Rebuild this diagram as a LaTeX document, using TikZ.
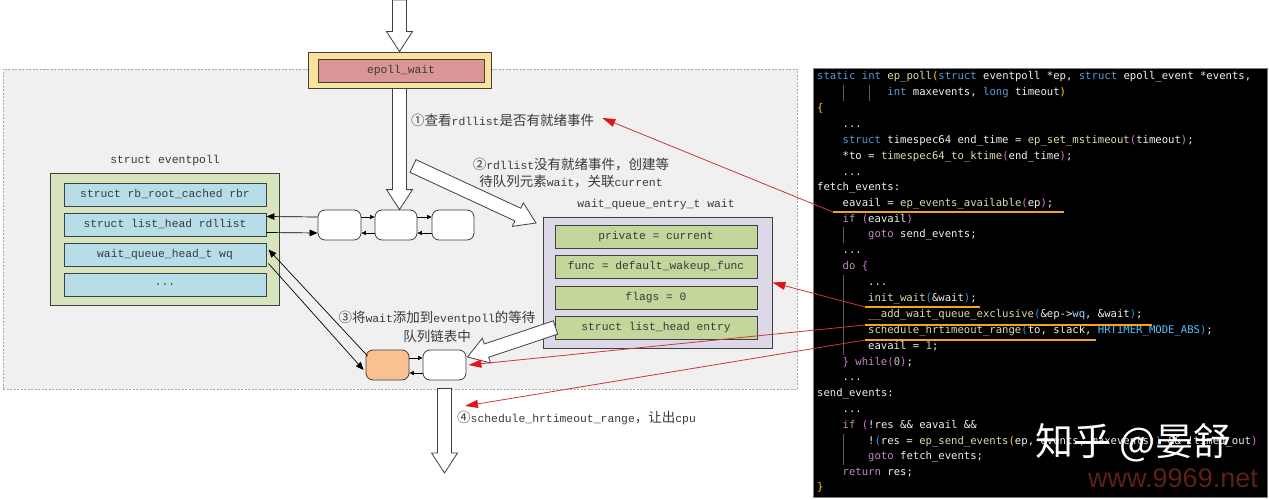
\documentclass[tikz,border=0pt]{standalone}
\usepackage{fontspec}
\usetikzlibrary{arrows.meta,calc}
\newfontfamily\lmono{Liberation Mono}
\newfontfamily\cjk{Noto Sans CJK SC}
\newfontfamily\codefont{DejaVu Sans Mono}
\newfontfamily\wsans{Liberation Sans}

\definecolor{bggray}{HTML}{F0F0F0}
\definecolor{dashgray}{HTML}{A6A6A6}
\definecolor{edgegray}{HTML}{404040}
\definecolor{txtgray}{HTML}{3A3A3A}
\definecolor{ewyellow}{HTML}{FCE39B}
\definecolor{ewred}{HTML}{D99694}
\definecolor{epgreen}{HTML}{D7E4BD}
\definecolor{fblue}{HTML}{B7DEE8}
\definecolor{wqlav}{HTML}{DCD8E8}
\definecolor{fgreen}{HTML}{C3D69B}
\definecolor{nodeorange}{HTML}{F9C090}
\definecolor{redline}{HTML}{C8393B}
\definecolor{redhead}{HTML}{E0141A}
\definecolor{ulorange}{HTML}{F2A516}
\definecolor{cdef}{HTML}{F0F0F0}
\definecolor{ckw}{HTML}{569CD6}
\definecolor{cctl}{HTML}{C586C0}
\definecolor{cfn}{HTML}{DCDCAA}
\definecolor{cvar}{HTML}{9CDCFE}
\definecolor{cpa}{HTML}{FFD700}
\definecolor{cpb}{HTML}{DA70D6}
\definecolor{cpc}{HTML}{179FFF}
\definecolor{cnum}{HTML}{B5CEA8}
\definecolor{ccon}{HTML}{4FC1FF}
\definecolor{cguide}{HTML}{5A5A5A}
\definecolor{wmred}{HTML}{5C2117}

\newcommand\zh[1]{{\cjk\fontsize{13.5}{15}\selectfont #1}}
\newcommand\cKW[1]{\textcolor{ckw}{#1}}
\newcommand\cCT[1]{\textcolor{cctl}{#1}}
\newcommand\cFN[1]{\textcolor{cfn}{#1}}
\newcommand\cVR[1]{\textcolor{cvar}{#1}}
\newcommand\cNM[1]{\textcolor{cnum}{#1}}
\newcommand\cCN[1]{\textcolor{ccon}{#1}}
\newcommand\cPA[1]{\textcolor{cpa}{#1}}
\newcommand\cPB[1]{\textcolor{cpb}{#1}}
\newcommand\cPC[1]{\textcolor{cpc}{#1}}

\newcommand\blockarrow[2]{%
  \path let \p1=#1, \p2=#2 in \pgfextra{%
    \pgfmathsetmacro\baAngTmp{atan2(\y2-\y1,\x2-\x1)}%
    \pgfmathsetmacro\baLenTmp{veclen(\x2-\x1,\y2-\y1)}%
    \xdef\baAng{\baAngTmp}\xdef\baLen{\baLenTmp}};
  \draw[blockarr, shift={#1}, rotate=\baAng]
    (0pt,-7pt) -- ({\baLen pt-20pt},-7pt) -- ({\baLen pt-20pt},-13pt) -- ({\baLen pt},0pt)
    -- ({\baLen pt-20pt},13pt) -- ({\baLen pt-20pt},7pt) -- (0pt,7pt) -- cycle;
}

\tikzset{
  box/.style={draw=edgegray, line width=0.9pt, inner sep=0pt, font=\lmono\fontsize{11.3}{13}\selectfont, text=txtgray},
  field/.style={box, minimum width=202pt, minimum height=23pt},
  listnode/.style={draw=edgegray, line width=0.8pt, fill=white, rounded corners=7pt, minimum width=43pt, minimum height=30pt, inner sep=0pt},
  lbl/.style={font=\lmono\fontsize{11.4}{13}\selectfont, text=txtgray, inner sep=0pt},
  blockarr/.style={draw=edgegray, fill=white, line width=0.8pt, line join=miter},
  larr/.style={draw=black, line width=0.7pt, -{Triangle[length=8pt,width=6.5pt]}},
  sarr/.style={draw=black, line width=0.6pt, -{Triangle[length=4.5pt,width=4pt]}},
  redarr/.style={draw=redline, line width=0.8pt, -{Triangle[length=13pt,width=8pt,color=redhead]}},
  ul/.style={draw=ulorange, line width=2pt},
  cl/.style={anchor=west, inner sep=0pt, text height=8pt, text depth=2.5pt, font=\codefont\fontsize{10.6}{12}\selectfont\frenchspacing, text=cdef},
  guide/.style={draw=cguide, line width=0.6pt}
}

\begin{document}
\begin{tikzpicture}[x=1pt,y=-1pt]
\useasboundingbox (0,0) rectangle (1269,500);

% background frame
\node[draw=dashgray, dash pattern=on 2pt off 1.5pt, fill=bggray, line width=0.8pt, minimum width=794pt, minimum height=320pt, inner sep=0pt] (frame) at (400,229) {};

% code panel
\node[draw=gray, fill=black, line width=0.8pt, minimum width=454pt, minimum height=429pt, inner sep=0pt] (codebg) at (1040,282.5) {};

% epoll_wait
\node[box, fill=ewyellow, minimum width=183pt, minimum height=36pt] (ewo) at (399.5,70) {};
\node[box, fill=ewred, minimum width=166pt, minimum height=23pt] (ew) at (401,70.5) {epoll\_wait};

% eventpoll
\node[lbl] (eplbl) at (165,161) {struct eventpoll};
\node[box, fill=epgreen, minimum width=229pt, minimum height=132pt] (ep) at (165,239) {};
\node[field, fill=fblue] (rbr) at (165,194.5) {struct rb\_root\_cached rbr};
\node[field, fill=fblue] (rdl) at (165,224.5) {struct list\_head rdllist};
\node[field, fill=fblue] (wq) at (165,254.5) {wait\_queue\_head\_t wq};
\node[field, fill=fblue] (etc) at (165,284.5) {...};

% ready list
\node[listnode] (n1) at (339.5,225) {};
\node[listnode, minimum width=42pt] (n2) at (396,225) {};
\node[listnode, minimum width=42pt] (n3) at (453,225) {};

% wait entry
\node[lbl] (wlbl) at (656,205) {wait\_queue\_entry\_t wait};
\node[box, fill=wqlav, minimum width=229pt, minimum height=131pt] (wait) at (657.5,282.5) {};
\node[field, fill=fgreen] (priv) at (656,236.5) {private = current};
\node[field, fill=fgreen] (func) at (656,267) {func = default\_wakeup\_func};
\node[field, fill=fgreen] (flags) at (656,297.5) {flags = 0};
\node[field, fill=fgreen] (entry) at (656,327.5) {struct list\_head entry};

% wait queue list
\node[listnode, fill=nodeorange] (on) at (387.5,365) {};
\node[listnode] (wn) at (444.5,365) {};

% labels
\node[lbl, anchor=west] (l1) at (411,120) {\zh{①查看}rdllist\zh{是否有就绪事件}};
\node[lbl] (l2a) at (571,165) {\zh{②}rdllist\zh{没有就绪事件，创建等}};
\node[lbl] (l2b) at (571,182) {\zh{待队列元素}wait\zh{，关联}current};
\node[lbl] (l3a) at (437,318) {\zh{③将}wait\zh{添加到}eventpoll\zh{的等待}};
\node[lbl] (l3b) at (437,336) {\zh{队列链表中}};
\node[lbl, anchor=west] (l4) at (457,418) {\zh{④}schedule\_hrtimeout\_range\zh{，让出}cpu};

% block arrows
\coordinate (topin) at (399.5,0);
\blockarrow{(topin)}{(ewo.north)}
\coordinate (dn2) at (ewo.south |- n2.north);
\blockarrow{(ewo.south)}{(dn2)}
\coordinate (d2s) at (413,166);
\coordinate (d2e) at (536,223);
\blockarrow{(d2s)}{(d2e)}
\coordinate (e3s) at ($(entry.west)+(1,0)$);
\coordinate (e3e) at ($(wn.east)+(1,-8)$);
\blockarrow{(e3s)}{(e3e)}
\coordinate (bs) at ($(wn.south)+(0,8)$);
\coordinate (be) at (444.5,473);
\blockarrow{(bs)}{(be)}

% list connectors
\draw[larr] ([yshift=8pt]n1.west) -- ([yshift=8pt]rdl.east);
\draw[larr] ([yshift=-8pt]rdl.east) -- ([yshift=-8pt]n1.west);
\draw[sarr] ([yshift=8pt]n1.east) -- ([yshift=8pt]n2.west);
\draw[sarr] ([yshift=-8pt]n2.west) -- ([yshift=-8pt]n1.east);
\draw[sarr] ([yshift=8pt]n2.east) -- ([yshift=8pt]n3.west);
\draw[sarr] ([yshift=-8pt]n3.west) -- ([yshift=-8pt]n2.east);
\draw[sarr] ([yshift=7pt]on.east) -- ([yshift=7pt]wn.west);
\draw[sarr] ([yshift=-8pt]wn.west) -- ([yshift=-8pt]on.east);
\draw[larr] ($(on.west)+(2,-9)$) -- ($(wq.east)+(2,-5)$);
\draw[larr] ($(wq.east)+(2,9)$) -- ($(on.west)+(-2,5)$);

% code
\draw[guide] (843,85) -- (843,101);
\draw[guide] (869,85) -- (869,101);
\draw[guide] (843,227) -- (843,243);
\draw[guide] (843,275) -- (843,355);
\draw[guide] (843,434) -- (843,465);
\node[cl] (c1) at (817,77) {\cKW{static} \cKW{int} \cFN{ep\_poll}\cPA{(}\cKW{struct} eventpoll *ep, \cKW{struct} epoll\_event *events,};
\node[cl] (c2) at (887.2,93) {\cKW{int} maxevents, \cKW{long} timeout\cPA{)}};
\node[cl] (c3) at (817,109) {\cPA{\{}};
\node[cl] (c4) at (842.5,125) {...};
\node[cl] (c5) at (842.5,141) {\cKW{struct} timespec64 end\_time = \cFN{ep\_set\_mstimeout}\cPB{(}timeout\cPB{)};};
\node[cl] (c6) at (842.5,157) {*to = \cFN{timespec64\_to\_ktime}\cPB{(}end\_time\cPB{)};};
\node[cl] (c7) at (842.5,173) {...};
\node[cl] (c8) at (817,188) {fetch\_events:};
\node[cl] (c9) at (842.5,204) {eavail = \cFN{ep\_events\_available}\cPB{(}ep\cPB{)};};
\node[cl] (c10) at (842.5,220) {\cCT{if} \cPB{(}eavail\cPB{)}};
\node[cl] (c11) at (868,235) {\cCT{goto} send\_events;};
\node[cl] (c12) at (842.5,251) {...};
\node[cl] (c13) at (842.5,267) {\cCT{do} \cPB{\{}};
\node[cl] (c14) at (868,283) {...};
\node[cl] (c15) at (868,299) {\cFN{init\_wait}\cPC{(}\&wait\cPC{)};};
\node[cl] (c16) at (868,315) {\cFN{\_\_add\_wait\_queue\_exclusive}\cPC{(}\&ep->\cVR{wq}, \&wait\cPC{)};};
\node[cl] (c17) at (868,331) {\cFN{schedule\_hrtimeout\_range}\cPC{(}to, slack, \cCN{HRTIMER\_MODE\_ABS}\cPC{)};};
\node[cl] (c18) at (868,347) {eavail = \cNM{1};};
\node[cl] (c19) at (842.5,363) {\cPB{\}} \cCT{while}\cPB{(}\cNM{0}\cPB{)};};
\node[cl] (c20) at (842.5,378) {...};
\node[cl] (c21) at (817,394) {send\_events:};
\node[cl] (c22) at (842.5,410) {...};
\node[cl] (c23) at (842.5,426) {\cCT{if} \cPB{(}!res \&\& eavail \&\&};
\node[cl] (c24) at (868,442) {!\cPC{(}res = \cFN{ep\_send\_events}\cPA{(}ep, events, maxevents\cPA{)}\cPC{)} \&\& !timed\_out\cPB{)}};
\node[cl] (c25) at (868,457) {\cCT{goto} fetch\_events;};
\node[cl] (c26) at (842.5,473) {\cCT{return} res;};
\node[cl] (c27) at (817,488) {\cPA{\}}};

% red arrows and underlines
\coordinate (u1s) at (833,212); \coordinate (u1e) at (1064,212);
\coordinate (u2s) at (865,307); \coordinate (u2e) at (980,307);
\coordinate (u3s) at (865,325); \coordinate (u3e) at (1152,325);
\coordinate (u4s) at (865,340); \coordinate (u4e) at (1096,340);
\draw[redarr] (u1s) -- ($(l1.east)+(8,-2)$);
\draw[redarr] (u2s) -- (wait.east);
\draw[redarr] (u3s) -- ($(wn.east)+(2,0)$);
\draw[redarr] (u4s) -- ($(l4.west)+(8,-12)$);
\draw[ul] (u1s) -- (u1e);
\draw[ul] (u2s) -- (u2e);
\draw[ul] (u3s) -- (u3e);
\draw[ul] (u4s) -- (u4e);

% watermarks
\node[font=\cjk\fontsize{38}{40}\selectfont, text=white, anchor=west, inner sep=0pt] (wm1) at (1035,443) {知乎 @晏舒};
\node[font=\wsans\fontsize{27}{30}\selectfont, text=wmred, anchor=west, inner sep=0pt] (wm2) at (1088,478) {www.9969.net};
\end{tikzpicture}
\end{document}
